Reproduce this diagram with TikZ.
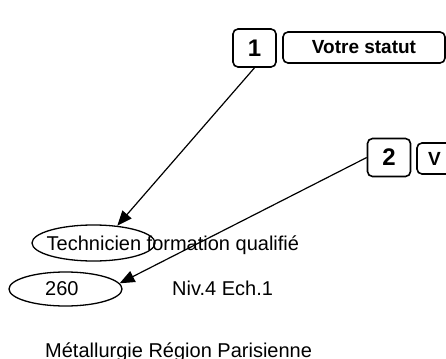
\documentclass[tikz,border=0pt]{standalone}
\usepackage{fontspec}
\setmainfont{Liberation Sans}
\usetikzlibrary{arrows.meta,shapes.geometric}
\begin{document}
\begin{tikzpicture}[x=1pt,y=-1pt,
  numbox/.style={draw,line width=1.6pt,rounded corners=5pt,minimum width=43pt,minimum height=38pt,inner sep=0pt,font=\bfseries\fontsize{24}{24}\selectfont},
  labbox/.style={draw,line width=1.6pt,rounded corners=5pt,minimum width=162pt,minimum height=31pt,inner sep=0pt,font=\bfseries\fontsize{19}{19}\selectfont},
  oval/.style={draw,ellipse,line width=1.3pt,inner sep=0pt},
  txt/.style={inner sep=0pt,anchor=base west,font=\fontsize{20}{20}\selectfont},
  arr/.style={line width=1.2pt,-{Triangle[length=15pt,width=12pt]}}]
\useasboundingbox (0,0) rectangle (446,358);
\node[numbox] (b1) at (254.5,48) {1};
\node[labbox] (s1) at (364,47.5) {Votre statut};
\node[numbox] (b2) at (389,157.5) {2};
\node[labbox,text width=140pt,align=left] (s2) at (498,158.5) {V};
\node[oval,minimum width=123pt,minimum height=36pt] (e1) at (93.5,243) {};
\node[oval,minimum width=113pt,minimum height=34pt] (e2) at (65.5,289) {};
\node[txt] (t1) at (46.5,250.7) {Technicien formation qualifié};
\node[txt] (t2) at (45,295) {260};
\node[txt] (t3) at (172,295) {Niv.4 Ech.1};
\node[txt] (t4) at (45,357.5) {Métallurgie Région Parisienne};
\draw[arr] (b1.south) -- (e1.36);
\draw[arr] (b2.west) -- (e2.6.5);
\end{tikzpicture}
\end{document}
